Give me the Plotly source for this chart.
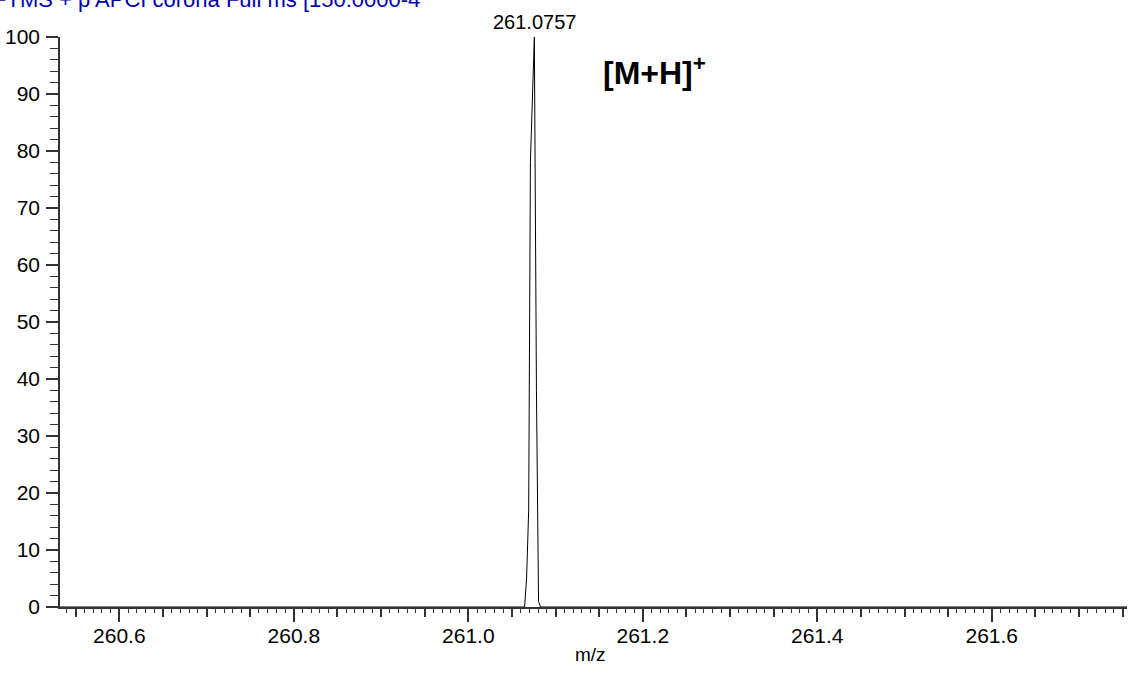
import plotly.graph_objects as go

mz = [260.532, 261.0645, 261.0668, 261.0692, 261.0712, 261.0757, 261.0781, 261.0805, 261.0828, 261.755]
intensity = [0, 0, 5, 17, 78, 100, 38, 1, 0, 0]
peak_mz = 261.0757
peak_label = "261.0757"
title_text = "FTMS + p APCI corona Full ms [150.0000-4"
ion_label = "[M+H]<sup>+</sup>"
x_title = "m/z"
x_range = [260.532, 261.755]
y_range = [0, 100]

FONT = "Liberation Sans, Arial, sans-serif"
AX = "#333333"

fig = go.Figure()
fig.add_trace(go.Scatter(x=mz, y=intensity, mode="lines",
                         line=dict(color="black", width=1), hoverinfo="skip"))
# invisible trace on second axis for medium ticks
fig.add_trace(go.Scatter(x=x_range, y=[0, 0], mode="lines", xaxis="x2",
                         line=dict(color="rgba(0,0,0,0)"), hoverinfo="skip"))

fig.update_layout(
    width=1129, height=673,
    margin=dict(l=60, r=2, t=37, b=66),
    paper_bgcolor="white", plot_bgcolor="white",
    showlegend=False,
    font=dict(family=FONT, size=21, color="black"),
    xaxis=dict(range=x_range, showgrid=False, zeroline=False, automargin=False,
               showline=True, linecolor=AX, linewidth=1.5,
               ticks="outside", ticklen=13, tickwidth=1.5, tickcolor=AX,
               tick0=260.6, dtick=0.2, tickformat=".1f", ticklabelstandoff=-4,
               tickfont=dict(size=21, family=FONT),
               minor=dict(ticks="outside", ticklen=4, tickwidth=1.2, tickcolor=AX,
                          tick0=260.6, dtick=0.01, showgrid=False)),
    xaxis2=dict(range=x_range, overlaying="x", side="bottom", showgrid=False,
                zeroline=False, showline=False, showticklabels=False, automargin=False,
                ticks="outside", ticklen=9, tickwidth=1.5, tickcolor=AX,
                tick0=260.6, dtick=0.05, anchor="y"),
    yaxis=dict(range=y_range, showgrid=False, zeroline=False, automargin=False,
               showline=True, linecolor=AX, linewidth=1.5,
               ticks="outside", ticklen=12, tickwidth=1.5, tickcolor=AX,
               tick0=0, dtick=10, ticklabelstandoff=2,
               tickfont=dict(size=21, family=FONT),
               minor=dict(ticks="outside", ticklen=8, tickwidth=1.2, tickcolor=AX,
                          tick0=0, dtick=2, showgrid=False)),
)

fig.add_annotation(x=peak_mz, y=100, text=peak_label, showarrow=False,
                   yanchor="bottom", yshift=2,
                   font=dict(size=20, family=FONT, color="black"))
fig.add_annotation(xref="paper", yref="paper", x=0.557, y=0.94, text=ion_label,
                   showarrow=False, xanchor="center", yanchor="middle",
                   font=dict(size=32, family=FONT, color="black", weight="bold"))
fig.add_annotation(xref="paper", yref="paper", x=0.4972, y=-0.084, text=x_title,
                   showarrow=False, xanchor="center", yanchor="middle",
                   font=dict(size=19, family=FONT, color="black"))
fig.add_annotation(xref="paper", yref="paper", x=-0.0647, y=1.0404, text=title_text,
                   showarrow=False, xanchor="left", yanchor="bottom",
                   font=dict(size=22, family=FONT, color="#0000B0"))

fig.write_html("out.html", config={"displayModeBar": False},
               post_script="document.body.style.margin='0';document.body.style.padding='0';")
